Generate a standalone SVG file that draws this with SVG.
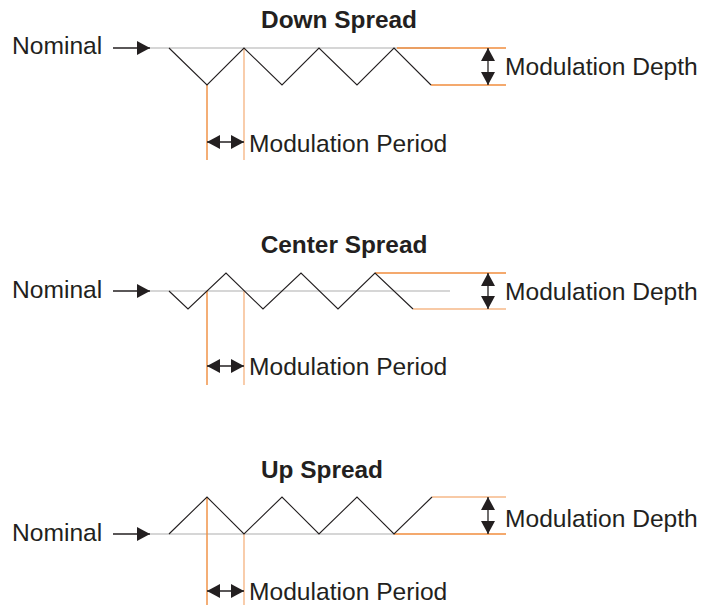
<svg xmlns="http://www.w3.org/2000/svg" width="705" height="605" viewBox="0 0 705 605">
<style>
text{font-family:"Liberation Sans",Arial,sans-serif;fill:#231f20;font-size:24.6px}
.t{font-weight:bold;text-anchor:middle;font-size:24.4px}
.w{fill:none;stroke:#231f20;stroke-width:1.1}
.g{stroke:#c8c8c8;stroke-width:1.3}
.o{stroke:#f08c3c;stroke-width:1.4}
.ol{stroke:#f6b888;stroke-width:1.4}
.a{stroke:#231f20;stroke-width:1.3;fill:none}
</style>
<defs>
<marker id="ah" viewBox="0 0 13 14" refX="13" refY="7" markerWidth="13" markerHeight="14" markerUnits="userSpaceOnUse" orient="auto-start-reverse">
<path d="M0,0 L13,7 L0,14 z" fill="#231f20"/>
</marker>
</defs>
<rect width="705" height="605" fill="#fff"/>
<g id="down">
<text class="t" x="339" y="28">Down Spread</text>
<text x="12" y="54">Nominal</text>
<line class="g" x1="150" y1="48" x2="450" y2="48"/>
<line class="o" x1="397" y1="48" x2="506" y2="48"/>
<line class="o" x1="431" y1="85" x2="506" y2="85"/>
<line class="o" x1="207" y1="85" x2="207" y2="160"/>
<line class="ol" x1="244" y1="48" x2="244" y2="160"/>
<polyline class="w" points="169,48 207,85 244,48 282,85 319,48 357,85 394,48 431,85"/>
<text x="249" y="152">Modulation Period</text>
<text x="505" y="75">Modulation Depth</text>
</g>
<g id="center">
<text class="t" x="344" y="253">Center Spread</text>
<text x="12" y="298">Nominal</text>
<line class="g" x1="150" y1="291" x2="450" y2="291"/>
<line class="o" x1="375" y1="273" x2="506" y2="273"/>
<line class="ol" x1="413" y1="309" x2="506" y2="309"/>
<line class="o" x1="207" y1="291" x2="207" y2="385"/>
<line class="ol" x1="244" y1="291" x2="244" y2="385"/>
<polyline class="w" points="169,291 188,309 226,273 263,309 301,273 338,309 375,273 413,309"/>
<text x="249" y="375">Modulation Period</text>
<text x="505" y="300">Modulation Depth</text>
</g>
<g id="up">
<text class="t" x="322" y="478">Up Spread</text>
<text x="12" y="541">Nominal</text>
<line class="g" x1="150" y1="534" x2="394" y2="534"/>
<line class="ol" x1="432" y1="497" x2="506" y2="497"/>
<line class="o" x1="394" y1="534" x2="506" y2="534"/>
<line class="o" x1="207" y1="497" x2="207" y2="605"/>
<line class="ol" x1="244" y1="534" x2="244" y2="605"/>
<polyline class="w" points="169,534 207,497 244,534 282,497 319,534 357,497 394,534 432,497"/>
<text x="249" y="600">Modulation Period</text>
<text x="505" y="527">Modulation Depth</text>
</g>
<g id="connectors">
<line class="a" x1="113" y1="48" x2="150" y2="48" marker-end="url(#ah)"/>
<line class="a" x1="207" y1="142" x2="244" y2="142" marker-start="url(#ah)" marker-end="url(#ah)"/>
<line class="a" x1="488" y1="48" x2="488" y2="85" marker-start="url(#ah)" marker-end="url(#ah)"/>
<line class="a" x1="113" y1="291" x2="150" y2="291" marker-end="url(#ah)"/>
<line class="a" x1="207" y1="366" x2="244" y2="366" marker-start="url(#ah)" marker-end="url(#ah)"/>
<line class="a" x1="488" y1="273" x2="488" y2="309" marker-start="url(#ah)" marker-end="url(#ah)"/>
<line class="a" x1="113" y1="534" x2="150" y2="534" marker-end="url(#ah)"/>
<line class="a" x1="207" y1="591" x2="244" y2="591" marker-start="url(#ah)" marker-end="url(#ah)"/>
<line class="a" x1="488" y1="497" x2="488" y2="534" marker-start="url(#ah)" marker-end="url(#ah)"/>
</g>
</svg>
